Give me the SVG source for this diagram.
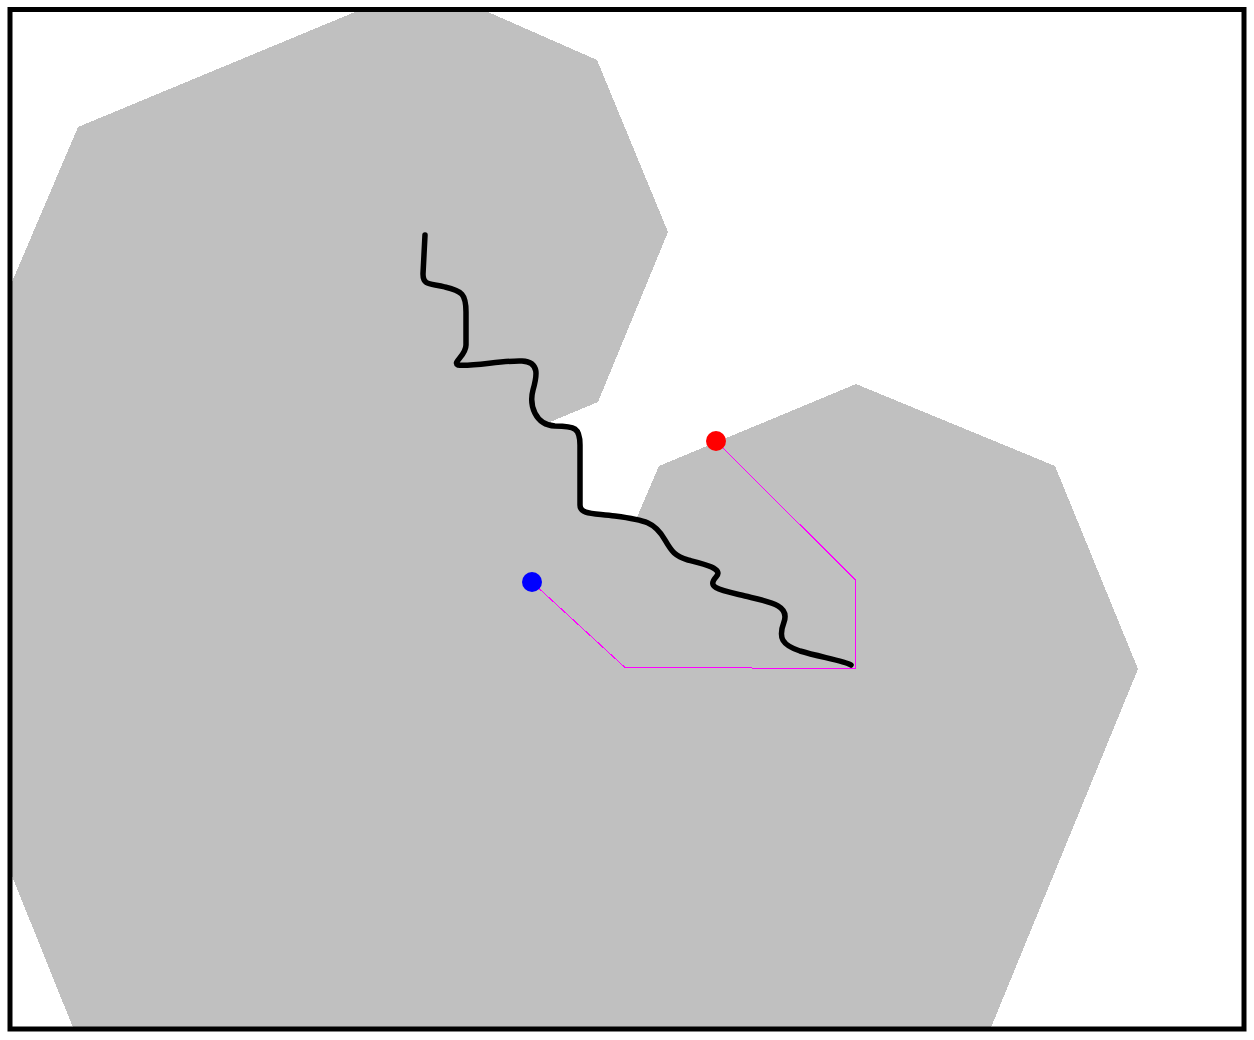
<svg xmlns="http://www.w3.org/2000/svg" width="1254" height="1040" viewBox="0 0 1254 1040">
  <style>
    .obst { fill: #c0c0c0; stroke: none; shape-rendering: crispEdges; }
    .route { fill: none; stroke: #ff00ff; stroke-width: 1; shape-rendering: crispEdges; }
    .trail { fill: none; stroke: #000000; stroke-width: 5.5; stroke-linecap: round; stroke-linejoin: round; }
    .frame { fill: none; stroke: #000000; stroke-width: 5; }
  </style>
  <rect x="0" y="0" width="1254" height="1040" fill="#ffffff"/>
  <g id="obstacles">
    <polygon class="obst" points="12,282 78,127 355,12 488,12 597,60 668,232 598,402 550,422 556,426 575,427 580,440 580,508 590,514 637,517 659,466 856,384 1055,466 1138,669 990,1030 74,1030 12,876"/>
  </g>
  <g id="connectors">
    <polyline class="route" points="532,582 625,667.5 752,667.5"/>
    <polyline class="route" points="716,441 855.5,580 855.5,668.5 752,668.5"/>
    <path class="trail" d="M425,235 L423,274 C423,287 433,283 445,287 C462,291 466,294 466,312 L466,345 C466,356 452,362 458,365 C470,367 505,360 522,361 C540,362 537,376 533,390 C529,405 535,425 555,426 C575,426 580,428 580,445 L580,505 C580,515 595,513 615,516 C645,520 655,522 665,540 C672,552 675,556 688,560 C700,563 725,568 716,577 C706,588 720,590 745,596 C770,602 790,605 784,622 C778,638 782,645 800,651 C820,657 845,661 851,665"/>
  </g>
  <g id="start">
    <circle cx="532" cy="582" r="10" fill="#0000ff"/>
  </g>
  <g id="goal">
    <circle cx="716" cy="441" r="10" fill="#ff0000"/>
  </g>
  <g id="frame">
    <rect class="frame" x="10" y="9.5" width="1234" height="1019.5"/>
  </g>
</svg>
